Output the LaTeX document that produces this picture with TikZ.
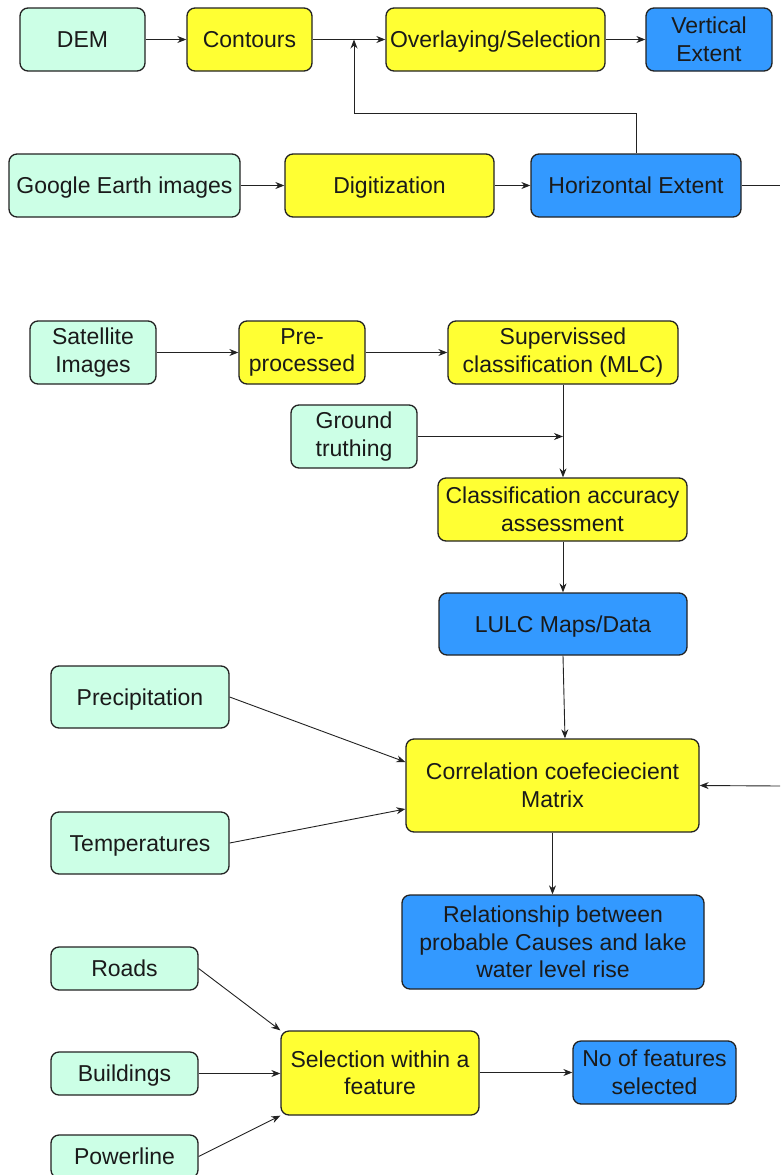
\documentclass[tikz,border=0pt]{standalone}
\usepackage{fontspec}
\setmainfont{Liberation Sans}
\usetikzlibrary{arrows.meta,calc}
\definecolor{mint}{HTML}{CCFFE6}
\definecolor{yel}{HTML}{FFFF33}
\definecolor{blu}{HTML}{3399FF}
\definecolor{edge}{HTML}{222222}
\definecolor{txt}{HTML}{1A1A1A}
\tikzset{
  box/.style={draw=edge, line width=1.3pt, rounded corners=8pt, align=center, inner sep=0pt,
    text=txt, font=\fontsize{23}{27.5}\selectfont},
  one/.style={text height=16.5pt, text depth=0pt},
  inbox/.style={box, fill=mint},
  procbox/.style={box, fill=yel},
  outbox/.style={box, fill=blu},
  arr/.style={draw=edge, line width=0.9pt, -{Stealth[length=9pt,width=7pt]}},
  plain/.style={draw=edge, line width=0.9pt},
}
\begin{document}
\begin{tikzpicture}[x=1pt,y=-1pt]
\useasboundingbox (0,0) rectangle (780,1175);
% top section
\node[inbox, one, minimum width=125pt, minimum height=63pt] (dem) at (82.5,39.5) {DEM};
\node[procbox, one, minimum width=125pt, minimum height=63pt] (cont) at (249.5,39.5) {Contours};
\node[procbox, one, minimum width=219pt, minimum height=63pt] (over) at (495.5,39.5) {Overlaying/Selection};
\node[outbox, minimum width=126pt, minimum height=63pt] (vert) at (709,39.5) {Vertical\\Extent};
\node[inbox, one, minimum width=231pt, minimum height=63pt] (ge) at (124.5,185.5) {Google Earth images};
\node[procbox, one, minimum width=209pt, minimum height=63pt] (dig) at (389.5,185.5) {Digitization};
\node[outbox, one, minimum width=210pt, minimum height=63pt] (hor) at (636,185.5) {Horizontal Extent};
\coordinate (jn) at (354,39.5);
\coordinate (fb) at (354,113);
\coordinate (hout) at (780,185.5);
\draw[arr] (dem) -- (cont);
\draw[arr] (cont) -- (over);
\draw[arr] (over) -- (vert);
\draw[arr] (ge) -- (dig);
\draw[arr] (dig) -- (hor);
\draw[arr] (hor.north) |- (fb) -- (jn);
\draw[plain] (hor.east) -- (hout);
% middle section
\node[inbox, minimum width=126pt, minimum height=63pt] (sat) at (93,352.5) {Satellite\\Images};
\node[procbox, minimum width=126pt, minimum height=63pt] (pre) at (302,352.5) {Pre-\\processed};
\node[procbox, minimum width=230pt, minimum height=63pt] (sup) at (563,352.5) {Supervissed\\classification (MLC)};
\node[inbox, minimum width=126pt, minimum height=63pt] (gt) at (354,436.5) {Ground\\truthing};
\node[procbox, minimum width=249pt, minimum height=63pt] (acc) at (562.5,509.5) {Classification accuracy\\assessment};
\node[outbox, one, minimum width=248pt, minimum height=62pt] (lulc) at (563,624) {LULC Maps/Data};
\node[inbox, one, minimum width=178pt, minimum height=62pt] (prec) at (140,697) {Precipitation};
\node[inbox, one, minimum width=178pt, minimum height=62pt] (temp) at (140,843) {Temperatures};
\node[procbox, minimum width=293pt, minimum height=93pt] (corr) at (552.5,785.5) {Correlation coefeciecient\\Matrix};
\node[outbox, minimum width=302pt, minimum height=94pt] (rel) at (553,942) {Relationship between\\probable Causes and lake\\water level rise};
\coordinate (gj) at (563,436.5);
\coordinate (cin) at (780,786);
\draw[arr] (sat) -- (pre);
\draw[arr] (pre) -- (sup);
\draw[arr] (sup.south) -- (sup.south|-acc.north);
\draw[arr] (gt.east) -- (gj);
\draw[arr] (acc.south-|lulc.north) -- (lulc.north);
\draw[arr] (lulc.south) -- ($(lulc.south|-corr.north)+(2,0)$);
\draw[arr] (prec.east) -- ($(corr.west)+(0,-23.5)$);
\draw[arr] (temp.east) -- ($(corr.west)+(0,23.5)$);
\draw[arr] (cin) -- (corr.east);
\draw[arr] (corr.south) -- (corr.south|-rel.north);
% bottom section
\node[inbox, one, minimum width=147pt, minimum height=43pt] (roads) at (124.5,968.5) {Roads};
\node[inbox, one, minimum width=147pt, minimum height=43pt] (bld) at (124.5,1073.5) {Buildings};
\node[inbox, one, minimum width=147pt, minimum height=43pt] (pow) at (124.5,1156.5) {Powerline};
\node[procbox, minimum width=198pt, minimum height=84pt] (sel) at (380,1073) {Selection within a\\feature};
\node[outbox, minimum width=163pt, minimum height=63pt] (nof) at (654.5,1072.5) {No of features\\selected};
\draw[arr] (roads.east) -- (sel.north west);
\draw[arr] (bld.east) -- (bld.east-|sel.west);
\draw[arr] (pow.east) -- (sel.south west);
\draw[arr] (sel.east|-nof.west) -- (nof.west);
\end{tikzpicture}
\end{document}
